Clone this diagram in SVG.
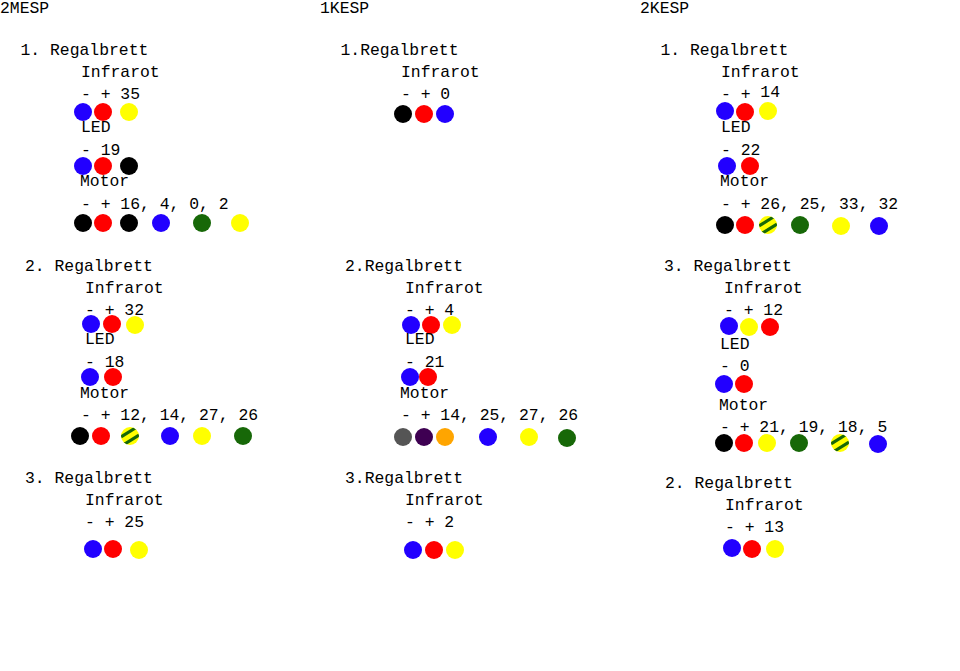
<svg xmlns="http://www.w3.org/2000/svg" width="960" height="671" viewBox="0 0 960 671">
<style>
text{font-family:"Liberation Mono","DejaVu Sans Mono",monospace;font-size:16.4px;fill:#000}
.b{fill:#2200ff}.r{fill:#ff0000}.y{fill:#ffff00}.k{fill:#000}.g{fill:#176808}.gr{fill:#555555}.p{fill:#3e0052}.o{fill:#ffa500}
.st{stroke:#176808;stroke-width:3.2;fill:none}
</style>
<defs>
<clipPath id="cc"><circle cx="0" cy="0" r="9"/></clipPath>
<g id="stripe">
<circle cx="0" cy="0" r="9" fill="#ffff00"/>
<g clip-path="url(#cc)">
<line class="st" x1="-9" y1="1" x2="7" y2="-9"/>
<line class="st" x1="-7" y1="9" x2="9" y2="-1"/>
</g>
</g>
</defs>
<rect width="960" height="671" fill="#fff"/>

<g id="col-2MESP">
<text x="0" y="13">2MESP</text>
<g id="m-r1">
<text x="20.5" y="55" xml:space="preserve">1. Regalbrett</text>
<text x="81" y="77">Infrarot</text>
<text x="81" y="99">- + 35</text>
<circle class="b" cx="83" cy="112" r="9"/><circle class="r" cx="103" cy="112" r="9"/><circle class="y" cx="129" cy="112" r="9"/>
<text x="81" y="132">LED</text>
<text x="81" y="155">- 19</text>
<circle class="b" cx="83" cy="166" r="9"/><circle class="r" cx="103" cy="166" r="9"/><circle class="k" cx="129" cy="166" r="9"/>
<text x="80" y="186">Motor</text>
<text x="81" y="209">- + 16, 4, 0, 2</text>
<circle class="k" cx="83" cy="223" r="9"/><circle class="r" cx="103" cy="223" r="9"/><circle class="k" cx="129" cy="223" r="9"/><circle class="b" cx="161" cy="223" r="9"/><circle class="g" cx="202" cy="223" r="9"/><circle class="y" cx="240" cy="223" r="9"/>
</g>
<g id="m-r2">
<text x="25" y="271">2. Regalbrett</text>
<text x="85" y="293">Infrarot</text>
<text x="85" y="315">- + 32</text>
<circle class="b" cx="91" cy="324" r="9"/><circle class="r" cx="112" cy="324" r="9"/><circle class="y" cx="135" cy="325" r="9"/>
<text x="85" y="344">LED</text>
<text x="85" y="367">- 18</text>
<circle class="b" cx="90" cy="377" r="9"/><circle class="r" cx="113" cy="377" r="9"/>
<text x="80" y="398">Motor</text>
<text x="81" y="420">- + 12, 14, 27, 26</text>
<circle class="k" cx="80" cy="436" r="9"/><circle class="r" cx="101" cy="436" r="9"/><use href="#stripe" x="130" y="436"/><circle class="b" cx="170" cy="436" r="9"/><circle class="y" cx="202" cy="436" r="9"/><circle class="g" cx="243" cy="436" r="9"/>
</g>
<g id="m-r3">
<text x="25" y="483">3. Regalbrett</text>
<text x="85" y="505">Infrarot</text>
<text x="85" y="527">- + 25</text>
<circle class="b" cx="93" cy="549" r="9"/><circle class="r" cx="113" cy="549" r="9"/><circle class="y" cx="139" cy="550" r="9"/>
</g>
</g>

<g id="col-1KESP">
<text x="320" y="13">1KESP</text>
<g id="k1-r1">
<text x="340.5" y="55">1.Regalbrett</text>
<text x="401" y="77">Infrarot</text>
<text x="401" y="99">- + 0</text>
<circle class="k" cx="403" cy="114" r="9"/><circle class="r" cx="424" cy="114" r="9"/><circle class="b" cx="445" cy="114" r="9"/>
</g>
<g id="k1-r2">
<text x="345" y="271">2.Regalbrett</text>
<text x="405" y="293">Infrarot</text>
<text x="405" y="315">- + 4</text>
<circle class="b" cx="411" cy="325" r="9"/><circle class="r" cx="431" cy="325" r="9"/><circle class="y" cx="452" cy="325" r="9"/>
<text x="405" y="344">LED</text>
<text x="405" y="367">- 21</text>
<circle class="b" cx="410" cy="377" r="9"/><circle class="r" cx="428" cy="377" r="9"/>
<text x="400" y="398">Motor</text>
<text x="401" y="420">- + 14, 25, 27, 26</text>
<circle class="gr" cx="403" cy="437" r="9"/><circle class="p" cx="424" cy="437" r="9"/><circle class="o" cx="445" cy="437" r="9"/><circle class="b" cx="488" cy="437" r="9"/><circle class="y" cx="529" cy="437" r="9"/><circle class="g" cx="567" cy="438" r="9"/>
</g>
<g id="k1-r3">
<text x="345" y="483">3.Regalbrett</text>
<text x="405" y="505">Infrarot</text>
<text x="405" y="527">- + 2</text>
<circle class="b" cx="413" cy="550" r="9"/><circle class="r" cx="434" cy="550" r="9"/><circle class="y" cx="455" cy="550" r="9"/>
</g>
</g>

<g id="col-2KESP">
<text x="640" y="13">2KESP</text>
<g id="k2-r1">
<text x="660.5" y="55">1. Regalbrett</text>
<text x="721" y="77">Infrarot</text>
<text x="721" y="99">- + <tspan dy="-2">14</tspan></text>
<circle class="b" cx="725" cy="111" r="9"/><circle class="r" cx="745" cy="112" r="9"/><circle class="y" cx="768" cy="111" r="9"/>
<text x="721" y="132">LED</text>
<text x="721" y="155">- 22</text>
<circle class="b" cx="727" cy="166" r="9"/><circle class="r" cx="750" cy="166" r="9"/>
<text x="720" y="186">Motor</text>
<text x="721" y="209">- + 26, 25, 33, 32</text>
<circle class="k" cx="725" cy="225" r="9"/><circle class="r" cx="745" cy="225" r="9"/><use href="#stripe" x="768" y="225"/><circle class="g" cx="800" cy="225" r="9"/><circle class="y" cx="841" cy="226" r="9"/><circle class="b" cx="879" cy="226" r="9"/>
</g>
<g id="k2-r3">
<text x="664" y="271">3. Regalbrett</text>
<text x="724" y="293">Infrarot</text>
<text x="724" y="315">- + 12</text>
<circle class="b" cx="729" cy="326" r="9"/><circle class="y" cx="749" cy="327" r="9"/><circle class="r" cx="770" cy="327" r="9"/>
<text x="720" y="349">LED</text>
<text x="720" y="371">- 0</text>
<circle class="b" cx="724" cy="384" r="9"/><circle class="r" cx="744" cy="384" r="9"/>
<text x="719" y="410">Motor</text>
<text x="720" y="432">- + 21, 19, 18, 5</text>
<circle class="k" cx="724" cy="443" r="9"/><circle class="r" cx="744" cy="443" r="9"/><circle class="y" cx="767" cy="443" r="9"/><circle class="g" cx="799" cy="443" r="9"/><use href="#stripe" x="840" y="443"/><circle class="b" cx="878" cy="444" r="9"/>
</g>
<g id="k2-r2">
<text x="665" y="488">2. Regalbrett</text>
<text x="725" y="510">Infrarot</text>
<text x="725" y="532">- + 13</text>
<circle class="b" cx="732" cy="548" r="9"/><circle class="r" cx="752" cy="549" r="9"/><circle class="y" cx="775" cy="549" r="9"/>
</g>
</g>
</svg>
